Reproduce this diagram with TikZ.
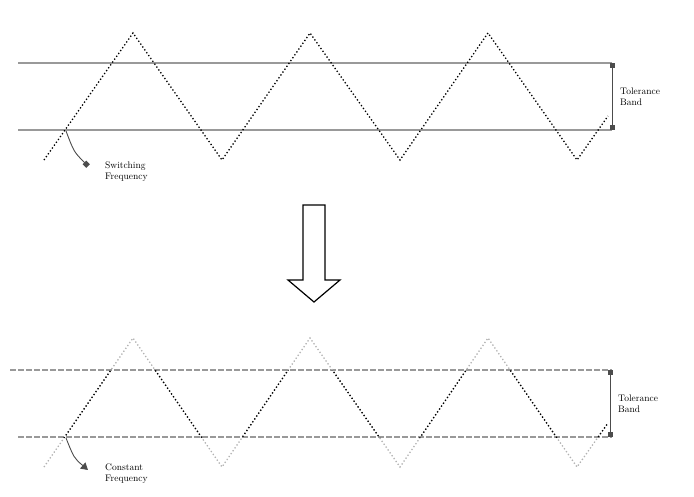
\documentclass[tikz,border=0pt]{standalone}
\usetikzlibrary{arrows.meta,calc}
\begin{document}
\begin{tikzpicture}[x=1pt,y=-1pt,
  band/.style={draw=black!40,line width=1.1pt},
  bandd/.style={draw=black!40,line width=1.1pt,dash pattern=on 6pt off 2pt},
  wave/.style={draw=black,line width=1.3pt,dash pattern=on 1.3pt off 2.2pt},
  wavelight/.style={draw=black!30,line width=1.3pt,dash pattern=on 1.3pt off 2.2pt},
  lbl/.style={font=\fontsize{9.5}{11}\selectfont,align=left,anchor=west,inner sep=0pt},
  dim/.style={draw=black!70,line width=0.9pt,{Square[length=5pt,width=5pt]}-{Square[length=5pt,width=5pt]}},
  blockarrow/.style={draw=black,line width=1.2pt,fill=white}]
\useasboundingbox (0,0) rectangle (694,496);
% ---------- top waveform ----------
\draw[band] (18,63) -- (612,63);
\draw[band] (18,130) -- (612,130);
\draw[wave] (44,160) -- (133,33) -- (222,160) -- (310,33) -- (400,160) -- (488,33) -- (577,160) -- (608,116);
\coordinate (t1) at (612,63);
\coordinate (t2) at (612,130);
\draw[dim] (t1) -- (t2);
\node[lbl] (tband) at (620,97) {Tolerance\\Band};
\coordinate (tc) at (66,131);
\coordinate (ttip) at (88,166);
\node[lbl] (tsw) at (105,172) {Switching\\Frequency};
\draw[draw=black!70,line width=0.9pt,-{Square[length=5pt,width=5pt]}] (tc) .. controls (74,152) .. (ttip);
% ---------- block arrow ----------
\draw[blockarrow] (303,205) -- (325,205) -- (325,280) -- (340,280) -- (314,302) -- (288,280) -- (303,280) -- cycle;
% ---------- bottom waveform ----------
\draw[bandd] (10,370) -- (612,370);
\draw[bandd] (18,437) -- (612,437);
\draw[wavelight] (44,467) -- (133,338) -- (222,467) -- (310,338) -- (400,467) -- (488,338) -- (577,467) -- (608,423);
\begin{scope}
\clip (0,370) rectangle (694,437);
\draw[wave] (44,467) -- (133,338) -- (222,467) -- (310,338) -- (400,467) -- (488,338) -- (577,467) -- (608,423);
\end{scope}
\coordinate (b1) at (610,370);
\coordinate (b2) at (610,437);
\draw[dim] (b1) -- (b2);
\node[lbl] (bband) at (618,404) {Tolerance\\Band};
\coordinate (bc) at (66,438);
\coordinate (btip) at (88,470);
\node[lbl] (bsw) at (105,474) {Constant\\Frequency};
\draw[draw=black!70,line width=0.9pt,-{Triangle[length=7pt,width=8pt]}] (bc) .. controls (74,458) .. (btip);
\end{tikzpicture}
\end{document}
